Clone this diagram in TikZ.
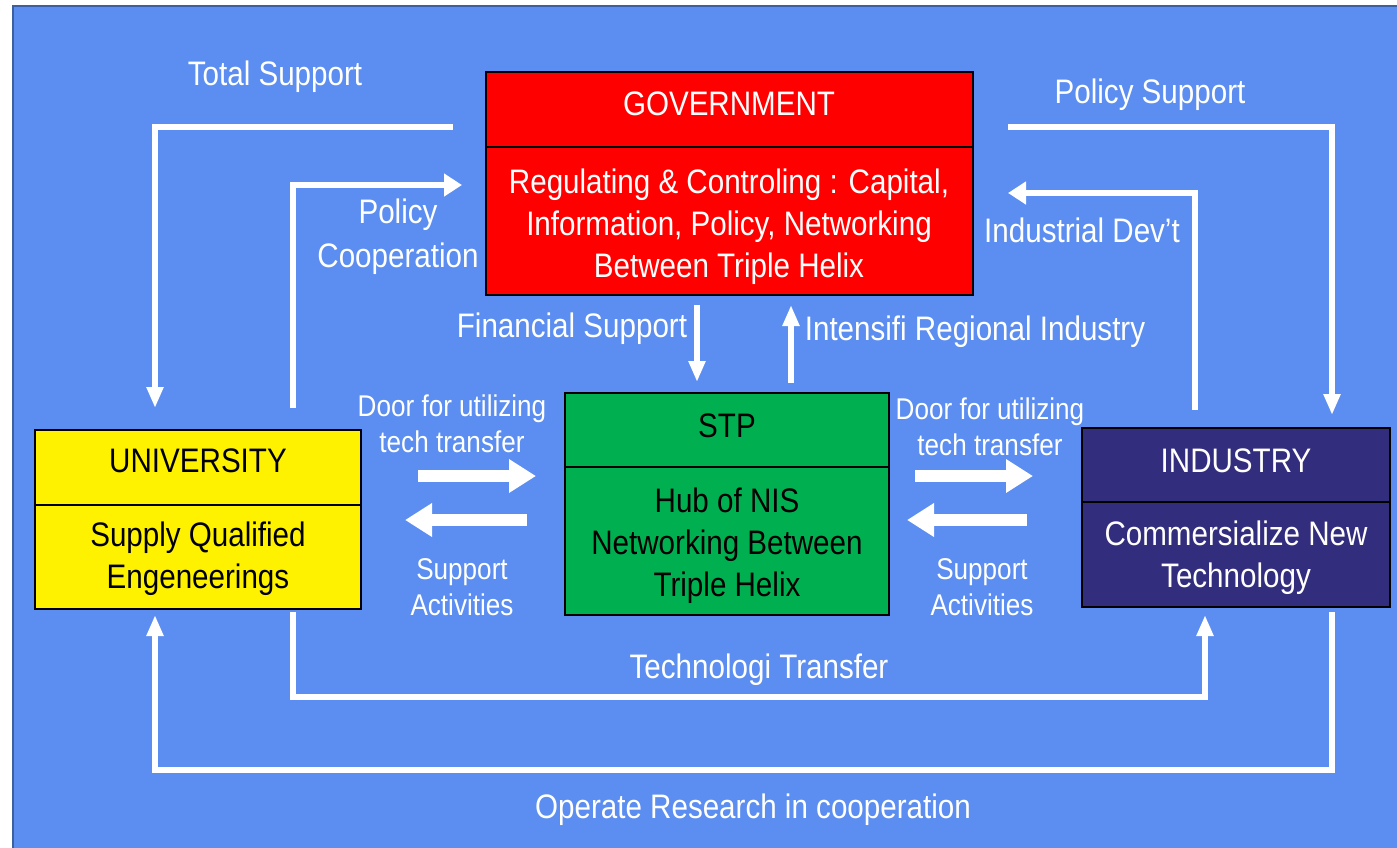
\documentclass[tikz,border=0pt]{standalone}
\usepackage{fontspec}
\setmainfont{Liberation Sans}[FakeStretch=0.87]
\usetikzlibrary{arrows.meta}
\definecolor{bgblue}{RGB}{91,142,240}
\definecolor{edgeblue}{RGB}{60,95,160}
\definecolor{indblue}{RGB}{51,45,125}
\definecolor{stpgreen}{RGB}{0,176,80}
\begin{document}
\begin{tikzpicture}[x=1pt,y=-1pt,
  box/.style={draw=black, line width=2pt, inner sep=0pt},
  big/.style={font=\fontsize{34}{42}\selectfont},
  small/.style={font=\fontsize{30}{36}\selectfont},
  lbl/.style={text=white, align=center, inner sep=0pt, anchor=base},
  hconn/.style={draw=white, line width=5.5pt, -{Triangle[length=18pt,width=22pt]}},
  vconn/.style={draw=white, line width=5.5pt, -{Triangle[length=21pt,width=16pt]}},
  block/.style={draw=white, line width=12pt, -{Triangle[length=27pt,width=32pt]}}
]
\useasboundingbox (0,0) rectangle (1397,847);
\fill[white] (0,0) rectangle (1397,847);
\path[fill=bgblue, draw=edgeblue, line width=2pt] (13,6) rectangle (1410,860);

% boxes
\node[box, fill=red, minimum width=487pt, minimum height=75pt] (govh) at (729.5,109.5) {};
\node[box, fill=red, minimum width=487pt, minimum height=148pt] (govb) at (729.5,221) {};
\node[box, fill=stpgreen, minimum width=324pt, minimum height=74pt] (stph) at (727,430) {};
\node[box, fill=stpgreen, minimum width=324pt, minimum height=148pt] (stpb) at (727,541) {};
\node[box, fill=yellow, minimum width=326pt, minimum height=75pt] (univh) at (198,467.5) {};
\node[box, fill=yellow, minimum width=326pt, minimum height=104pt] (univb) at (198,557) {};
\node[box, fill=indblue, minimum width=308pt, minimum height=74pt] (indh) at (1236,465) {};
\node[box, fill=indblue, minimum width=308pt, minimum height=105pt] (indb) at (1236,554.5) {};

% box texts (base = baseline of the last line)
\node[lbl, big] (tgov) at (729,115) {GOVERNMENT};
\node[lbl, big] (tgovb) at (729,277) {Regulating \& Controling : Capital,\\Information, Policy, Networking\\Between Triple Helix};
\node[lbl, big, text=black] (tstp) at (727,437) {STP};
\node[lbl, big, text=black] (tstpb) at (727,596) {Hub of NIS\\Networking Between\\Triple Helix};
\node[lbl, big, text=black] (tuniv) at (198,472) {UNIVERSITY};
\node[lbl, big, text=black] (tunivb) at (198,588) {Supply Qualified\\Engeneerings};
\node[lbl, big] (tind) at (1236,472) {INDUSTRY};
\node[lbl, big] (tindb) at (1236,587) {Commersialize New\\Technology};

% connector end points
\coordinate (tsA) at (453,127);   \coordinate (tsB) at (155,408);
\coordinate (pcA) at (293,408);   \coordinate (pcB) at (462,185);
\coordinate (psA) at (1008,127);  \coordinate (psB) at (1332,415);
\coordinate (idA) at (1195,410);  \coordinate (idB) at (1008,193);
\coordinate (fsA) at (697,305);   \coordinate (fsB) at (697,382);
\coordinate (irA) at (791,383);   \coordinate (irB) at (791,305);
\coordinate (ttA) at (293,612);   \coordinate (ttM) at (293,697);
\coordinate (ttN) at (1205,697);  \coordinate (ttB) at (1205,615);
\coordinate (orA) at (1332,612);  \coordinate (orM) at (1332,770);
\coordinate (orN) at (155,770);   \coordinate (orB) at (155,615);

\draw[vconn] (tsA) -| (tsB);
\draw[hconn] (pcA) |- (pcB);
\draw[vconn] (psA) -| (psB);
\draw[hconn] (idA) |- (idB);
\draw[vconn] (fsA) -- (fsB);
\draw[vconn] (irA) -- (irB);
\draw[vconn] (ttA) -- (ttM) -- (ttN) -- (ttB);
\draw[vconn] (orA) -- (orM) -- (orN) -- (orB);

% block arrows
\coordinate (d1A) at (418,476);  \coordinate (d1B) at (536,476);
\coordinate (s1A) at (527,520);  \coordinate (s1B) at (405,520);
\coordinate (d2A) at (915,476);  \coordinate (d2B) at (1033,476);
\coordinate (s2A) at (1027,520); \coordinate (s2B) at (907,520);
\draw[block] (d1A) -- (d1B);
\draw[block] (s1A) -- (s1B);
\draw[block] (d2A) -- (d2B);
\draw[block] (s2A) -- (s2B);

% labels
\node[lbl, big] (lts) at (275,85) {Total Support};
\node[lbl, big] (lps) at (1150,103) {Policy Support};
\node[lbl, big, font=\fontsize{34}{44}\selectfont] (lpc) at (398,267) {Policy\\Cooperation};
\node[lbl, big] (lid) at (1082,242) {Industrial Dev’t};
\node[lbl, big] (lfs) at (572,337) {Financial Support};
\node[lbl, big] (lir) at (975,340) {Intensifi Regional Industry};
\node[lbl, small] (ld1) at (452,452) {Door for utilizing\\tech transfer};
\node[lbl, small] (ld2) at (990,455) {Door for utilizing\\tech transfer};
\node[lbl, small] (ls1) at (462,615) {Support\\Activities};
\node[lbl, small] (ls2) at (982,615) {Support\\Activities};
\node[lbl, big] (ltt) at (759,678) {Technologi Transfer};
\node[lbl, big] (lor) at (753,818) {Operate Research in cooperation};
\end{tikzpicture}
\end{document}
